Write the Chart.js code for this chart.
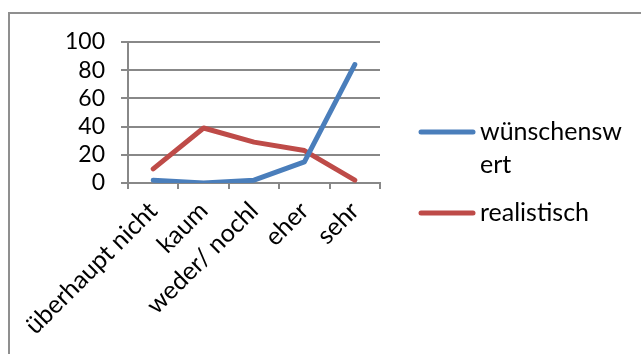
<!DOCTYPE html>
<html>
<head>
<meta charset="utf-8">
<script src="https://cdn.jsdelivr.net/npm/chart.js@4/dist/chart.umd.min.js"></script>
<style>
  html, body { margin: 0; padding: 0; background: #fff; }
  #wrap { position: relative; width: 641px; height: 354px; }
</style>
</head>
<body>
<div id="wrap"><canvas id="c" width="641" height="354"></canvas></div>
<script>
// Answer categories and the two rated series (percent)
const categories = ['überhaupt nicht', 'kaum', 'weder/ nochl', 'eher', 'sehr'];
const wuenschenswert = [2, 0, 2, 15, 84];
const realistisch = [10, 39, 29, 23, 2];
const seriesNames = ['wünschenswert', 'realistisch'];
// legend captions as they wrap in the narrow legend box
const legendLines = [['wünschensw', 'ert'], ['realistisch']];
const yMin = 0, yMax = 100, yStep = 20;

const BLUE = '#4a7ebb';
const RED = '#be4b48';
const GRID = '#888888';
const FONT = 'Lato';

// outer frame and a wrapped legend drawn on the canvas
const framePlugin = {
  id: 'frame',
  beforeDraw(chart) {
    const ctx = chart.ctx;
    ctx.save();
    ctx.strokeStyle = '#8f8f8f';
    ctx.lineWidth = 2;
    ctx.strokeRect(9, 13, 700, 400);
    ctx.restore();
  },
  afterDraw(chart) {
    const ctx = chart.ctx;
    ctx.save();
    const colors = [BLUE, RED];
    const rows = [132, 213];
    ctx.font = '25px ' + FONT;
    ctx.fillStyle = '#000';
    ctx.textBaseline = 'middle';
    ctx.textAlign = 'left';
    rows.forEach((y, i) => {
      ctx.strokeStyle = colors[i];
      ctx.lineWidth = 5;
      ctx.lineCap = 'round';
      ctx.beginPath();
      ctx.moveTo(421, y);
      ctx.lineTo(473, y);
      ctx.stroke();
      legendLines[i].forEach((t, k) => ctx.fillText(t, 480, y + k * 33));
    });
    ctx.restore();
  }
};

new Chart(document.getElementById('c'), {
  type: 'line',
  data: {
    labels: categories,
    datasets: [
      { label: seriesNames[0], data: wuenschenswert, borderColor: BLUE, backgroundColor: BLUE },
      { label: seriesNames[1], data: realistisch, borderColor: RED, backgroundColor: RED }
    ]
  },
  options: {
    responsive: false,
    animation: false,
    layout: { padding: { top: 42, right: 261, bottom: 0, left: 0 } },
    elements: {
      line: { borderWidth: 5, tension: 0, borderCapStyle: 'round', borderJoinStyle: 'round' },
      point: { radius: 0, hoverRadius: 0 }
    },
    plugins: { legend: { display: false }, tooltip: { enabled: false } },
    scales: {
      x: {
        offset: true,
        grid: { offset: true, drawOnChartArea: false, drawTicks: true, tickLength: 6, color: GRID, lineWidth: 2 },
        border: { color: GRID, width: 2 },
        ticks: { minRotation: 45, maxRotation: 45, autoSkip: false, padding: 7, color: '#000', font: { family: FONT, size: 25 } },
        afterFit(s) { s.height = 171; }
      },
      y: {
        min: yMin, max: yMax,
        grid: { color: GRID, lineWidth: 2, tickLength: 7 },
        border: { color: GRID, width: 2 },
        ticks: { stepSize: yStep, autoSkip: false, padding: 16, color: '#000', font: { family: FONT, size: 23 } },
        afterFit(s) { s.width = 128; }
      }
    }
  },
  plugins: [framePlugin]
});
</script>
</body>
</html>
